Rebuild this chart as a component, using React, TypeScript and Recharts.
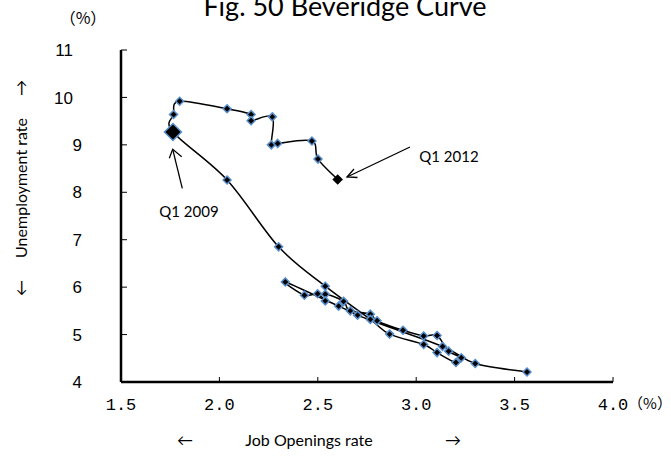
import React from "react";
import { LineChart, Line, XAxis, YAxis } from "recharts";

// quarterly path, 2001 Q1 -> 2012 Q1
const jobOpenings = [
  3.563, 3.30, 3.134, 2.702, 2.631, 2.538, 2.538, 2.499, 2.432, 2.335,
  2.606, 2.665, 2.767, 2.801, 2.933, 3.038, 3.106, 3.165, 3.229, 3.202,
  3.106, 3.038, 2.865, 2.767, 2.538, 2.301, 2.039, 1.764, 1.767, 1.798,
  2.039, 2.161, 2.161, 2.269, 2.264, 2.296, 2.470, 2.501, 2.601,
];
const unemployment = [
  4.21, 4.39, 4.75, 5.41, 5.70, 5.85, 5.71, 5.86, 5.83, 6.11,
  5.60, 5.50, 5.43, 5.29, 5.09, 4.97, 4.98, 4.65, 4.51, 4.41,
  4.62, 4.79, 5.01, 5.32, 6.02, 6.85, 8.26, 9.27, 9.64, 9.92,
  9.76, 9.64, 9.51, 9.59, 9.00, 9.03, 9.08, 8.70, 8.27,
];
const xTicks = [1.5, 2.0, 2.5, 3.0, 3.5, 4.0];
const yTicks = [4, 5, 6, 7, 8, 9, 10, 11];
const bigIndex = 27;
const lastIndex = jobOpenings.length - 1;

const data = jobOpenings.map((x, i) => ({ x, y: unemployment[i] }));

// smooth line through the points, like the excel "smoothed line"
const smoothCurve = (ctx: any) => {
  let pts: number[][] = [];
  const k = 1 / 6;
  return {
    areaStart() {},
    areaEnd() {},
    lineStart() {
      pts = [];
    },
    point(x: number, y: number) {
      pts.push([+x, +y]);
    },
    lineEnd() {
      if (!pts.length) return;
      ctx.moveTo(pts[0][0], pts[0][1]);
      for (let i = 0; i < pts.length - 1; i++) {
        const p0 = pts[i - 1] || pts[i];
        const p1 = pts[i];
        const p2 = pts[i + 1];
        const p3 = pts[i + 2] || p2;
        ctx.bezierCurveTo(
          p1[0] + (p2[0] - p0[0]) * k,
          p1[1] + (p2[1] - p0[1]) * k,
          p2[0] - (p3[0] - p1[0]) * k,
          p2[1] - (p3[1] - p1[1]) * k,
          p2[0],
          p2[1]
        );
      }
    },
  };
};

const diamond = (cx: number, cy: number, r: number) =>
  `M${cx},${cy - r}L${cx + r},${cy}L${cx},${cy + r}L${cx - r},${cy}Z`;

const renderDot = (props: any) => {
  const { cx, cy, index } = props;
  if (index === bigIndex) {
    return <path key={index} d={diamond(cx, cy, 8.5)} fill="#000" stroke="#5B8FCB" strokeWidth={1.5} />;
  }
  if (index === lastIndex) {
    return <path key={index} d={diamond(cx, cy, 5.3)} fill="#000" />;
  }
  return <path key={index} d={diamond(cx, cy, 4)} fill="#000" stroke="#5B8FCB" strokeWidth={1.5} />;
};

const XTick = (props: any) => {
  const { x, y, payload } = props;
  return (
    <text x={x} y={y} dy="0.71em" textAnchor="middle" fontSize={17} fontFamily="Liberation Mono" fill="#000">
      {payload.value.toFixed(1)}
    </text>
  );
};

const YTick = (props: any) => {
  const { x, y, payload } = props;
  return (
    <text x={payload.value >= 10 ? x - 9 : x} y={y} dy="0.36em" textAnchor="end" fontSize={17} fontFamily="Liberation Sans" fill="#000">
      {payload.value}
    </text>
  );
};

const label = { fontFamily: "Lato, sans-serif", fill: "#000" };

export default function App() {
  return (
    <div style={{ position: "absolute", left: 0, top: 0, width: 671, height: 457, background: "#fff" }}>
      <LineChart width={671} height={457} data={data} margin={{ top: 50, right: 58, bottom: 45, left: 0 }}>
        <XAxis
          type="number"
          dataKey="x"
          domain={[1.5, 4]}
          ticks={xTicks}
          interval={0}
          height={30}
          axisLine={{ stroke: "#000", strokeWidth: 2.5 }}
          tickLine={{ stroke: "#000", strokeWidth: 1 }}
          tickSize={-5}
          tickMargin={21}
          tick={<XTick />}
        />
        <YAxis
          type="number"
          dataKey="y"
          domain={[4, 11]}
          ticks={yTicks}
          interval={0}
          width={121}
          axisLine={{ stroke: "#000", strokeWidth: 2.5 }}
          tickLine={{ stroke: "#000", strokeWidth: 1 }}
          tickSize={-6}
          tickMargin={45}
          tick={<YTick />}
        />
        <Line
          type={smoothCurve as any}
          dataKey="y"
          stroke="#000"
          strokeWidth={1.5}
          dot={renderDot}
          activeDot={false}
          isAnimationActive={false}
        />
      </LineChart>
      <svg width={671} height={457} style={{ position: "absolute", left: 0, top: 0, pointerEvents: "none" }}>
        <text x={345} y={16} textAnchor="middle" fontSize={27} {...label}>
          Fig. 50 Beveridge Curve
        </text>
        <text x={83} y={24} textAnchor="middle" fontSize={16} fontFamily="Noto Sans CJK JP" fill="#000">
          （%）
        </text>
        <text x={650} y={409} textAnchor="middle" fontSize={15} fontFamily="Noto Sans CJK JP" fill="#000">
          （%）
        </text>
        <g transform="translate(27,188) rotate(-90)">
          <text x={-100} y={0} textAnchor="middle" fontSize={16} {...label}>←</text>
          <text x={0} y={0} textAnchor="middle" fontSize={16} {...label}>Unemployment rate</text>
          <text x={100} y={0} textAnchor="middle" fontSize={16} {...label}>→</text>
        </g>
        <text x={185} y={446} textAnchor="middle" fontSize={16} {...label}>←</text>
        <text x={309} y={446} textAnchor="middle" fontSize={16} {...label}>Job Openings rate</text>
        <text x={453} y={446} textAnchor="middle" fontSize={16} {...label}>→</text>

        <text x={189} y={217} textAnchor="middle" fontSize={15} {...label}>Q1 2009</text>
        <g stroke="#000" strokeWidth={1.3} fill="none">
          <line x1={182.3} y1={188.3} x2={172.7} y2={149.3} />
          <polyline points="169.3,158.3 172.7,149.3 181.7,156.7" />
        </g>
        <text x={449} y={162} textAnchor="middle" fontSize={15} {...label}>Q1 2012</text>
        <g stroke="#000" strokeWidth={1.3} fill="none">
          <line x1={410} y1={147} x2={347} y2={177} />
          <polyline points="354,169 347,177 357.5,177.5" />
        </g>
      </svg>
    </div>
  );
}
